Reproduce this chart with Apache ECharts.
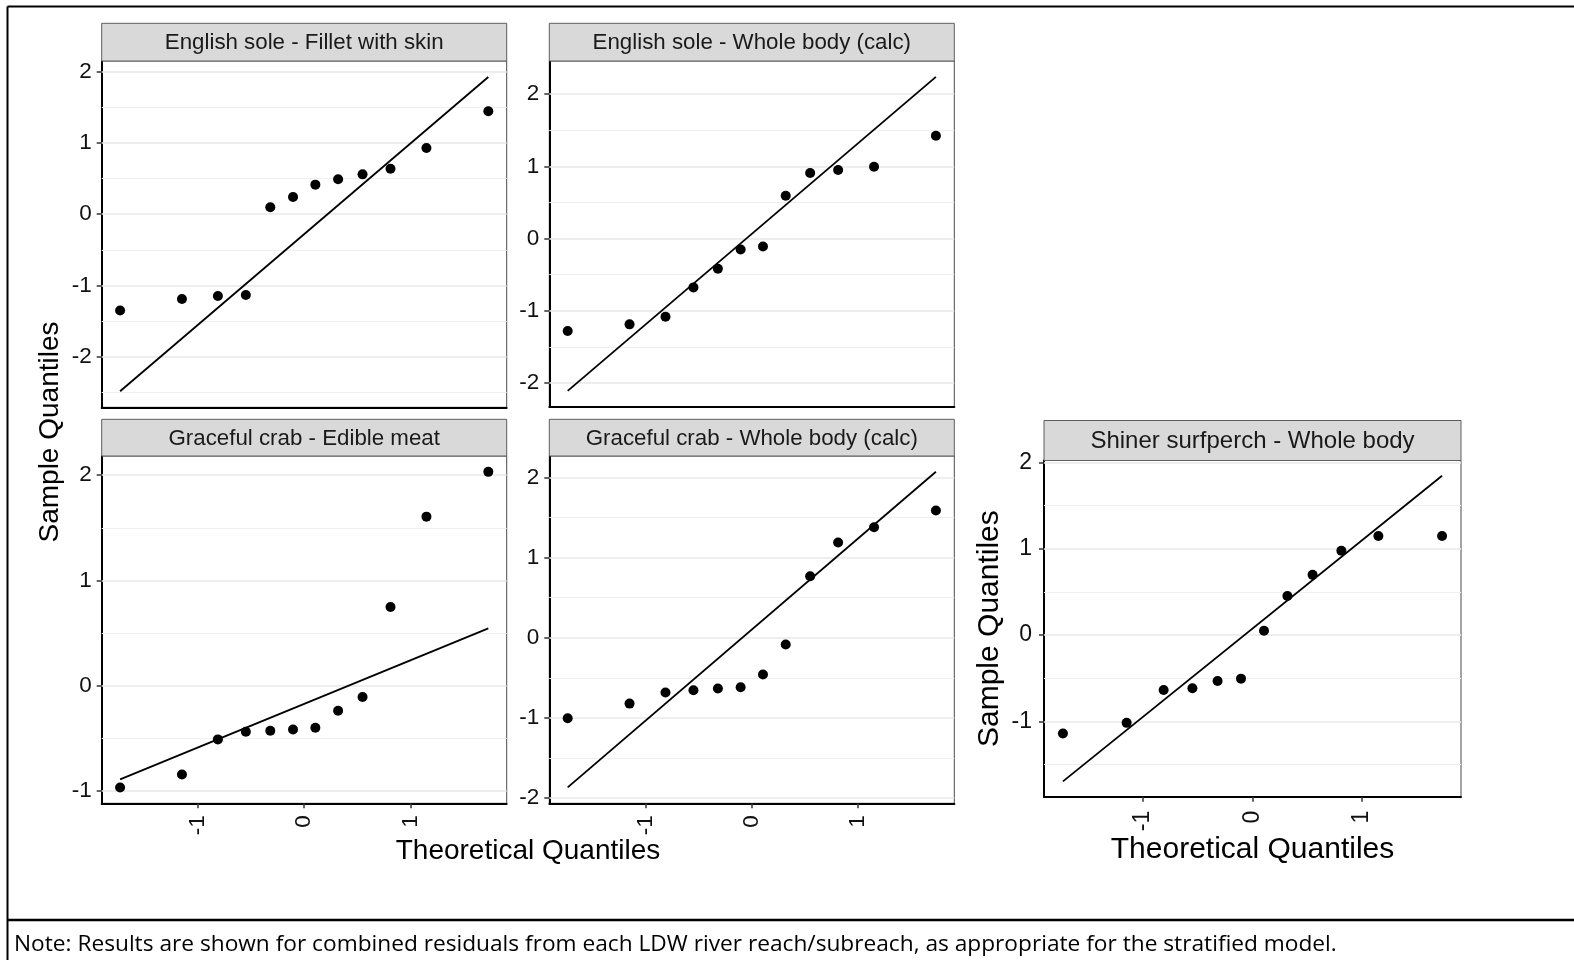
<!DOCTYPE html>
<html><head><meta charset="utf-8">
<script src="https://cdn.jsdelivr.net/npm/echarts@6/dist/echarts.min.js"></script>
<style>html,body{margin:0;padding:0;background:#fff}#c{width:1574px;height:960px}</style>
</head><body><div id="c"></div><script>
// ---------- data ----------
const panelTitles = [
  'English sole - Fillet with skin',
  'English sole - Whole body (calc)',
  'Graceful crab - Edible meat',
  'Graceful crab - Whole body (calc)',
  'Shiner surfperch - Whole body'
];
// theoretical normal quantiles (n = 12)
const theoQ = [-1.732, -1.150, -0.812, -0.549, -0.319, -0.105, 0.105, 0.319, 0.549, 0.812, 1.150, 1.732];
// sample quantiles
const sampleESFillet = [-1.352, -1.189, -1.147, -1.133, 0.098, 0.242, 0.415, 0.490, 0.559, 0.639, 0.928, 1.445];
const sampleESWhole  = [-1.281, -1.189, -1.083, -0.677, -0.419, -0.152, -0.111, 0.594, 0.908, 0.949, 0.995, 1.424];
const sampleGCMeat   = [-0.971, -0.848, -0.514, -0.441, -0.432, -0.419, -0.403, -0.241, -0.111, 0.746, 1.606, 2.032];
const sampleGCWhole  = [-1.004, -0.821, -0.683, -0.654, -0.633, -0.617, -0.458, -0.083, 0.767, 1.188, 1.379, 1.588];
const sampleSSWhole  = [-1.140, -1.016, -0.636, -0.616, -0.531, -0.504, 0.050, 0.453, 0.698, 0.977, 1.147, 1.147];
// reference (qq) line end values at x = theoQ[0] and x = theoQ[11]
const lineESFillet = [-2.485, 1.925];
const lineESWhole  = [-2.111, 2.240];
const lineGCMeat   = [-0.895, 0.543];
const lineGCWhole  = [-1.867, 2.071];
const lineSSWhole  = [-1.694, 1.845];
// axis tick labels
const yTicksESFillet = [-2, -1, 0, 1, 2];
const yTicksESWhole  = [-2, -1, 0, 1, 2];
const yTicksGCMeat   = [-1, 0, 1, 2];
const yTicksGCWhole  = [-2, -1, 0, 1, 2];
const yTicksSSWhole  = [-1, 0, 1, 2];
const xTicks = [-1, 0, 1];
const yTitle = 'Sample Quantiles';
const xTitle = 'Theoretical Quantiles';
const noteText = 'Note: Results are shown for combined residuals from each LDW river reach/subreach, as appropriate for the stratified model.';

// ---------- layout ----------
const FONT = '"Liberation Sans", Arial, sans-serif';
const panels = [
  {title: panelTitles[0], y: sampleESFillet, line: lineESFillet, ticks: yTicksESFillet, ymin: -2.71, ymax: 2.15, left: 101.7, top: 61, w: 405, h: 346.3, stripTop: 23.3, bottomRow: false, big: false},
  {title: panelTitles[1], y: sampleESWhole,  line: lineESWhole,  ticks: yTicksESWhole,  ymin: -2.33, ymax: 2.46, left: 549.3, top: 61, w: 405, h: 345.7, stripTop: 23.3, bottomRow: false, big: false},
  {title: panelTitles[2], y: sampleGCMeat,   line: lineGCMeat,   ticks: yTicksGCMeat,   ymin: -1.122, ymax: 2.183, left: 101.7, top: 456, w: 405, h: 347.3, stripTop: 419.3, bottomRow: true, big: false},
  {title: panelTitles[3], y: sampleGCWhole,  line: lineGCWhole,  ticks: yTicksGCWhole,  ymin: -2.065, ymax: 2.268, left: 549.3, top: 456, w: 405, h: 347.3, stripTop: 419.3, bottomRow: true, big: false},
  {title: panelTitles[4], y: sampleSSWhole,  line: lineSSWhole,  ticks: yTicksSSWhole,  ymin: -1.871, ymax: 2.022, left: 1044, top: 460.5, w: 417, h: 336.2, stripTop: 420.5, bottomRow: true, big: true}
];
const XMIN = -1.905, XMAX = 1.905;

const grids = [], xAxes = [], yAxes = [], series = [], graphics = [];

panels.forEach((p, i) => {
  const tickFont = p.big ? 23 : 22.5;
  grids.push({left: p.left, top: p.top, width: p.w, height: p.h, show: true,
    borderColor: '#4a4a4a', borderWidth: 1, backgroundColor: '#fff', outerBoundsMode: 'none', containLabel: false});
  xAxes.push({
    type: 'value', gridIndex: i, min: XMIN, max: XMAX,
    axisLine: {show: true, onZero: false, lineStyle: {color: '#000', width: 2}},
    axisTick: {show: p.bottomRow, customValues: xTicks, length: 5, lineStyle: {color: '#333', width: 1.5}},
    axisLabel: {show: p.bottomRow, customValues: xTicks, rotate: 90, margin: p.big ? 14 : 12,
      fontFamily: FONT, fontSize: tickFont, color: '#111'},
    splitLine: {show: false},
    name: p.big ? xTitle : '', nameLocation: 'middle', nameGap: 34,
    nameTextStyle: {fontFamily: FONT, fontSize: 30, color: '#000'}
  });
  yAxes.push({
    type: 'value', gridIndex: i, min: p.ymin, max: p.ymax,
    axisLine: {show: true, onZero: false, lineStyle: {color: '#000', width: 2}},
    axisTick: {show: true, customValues: p.ticks, length: 5, lineStyle: {color: '#333', width: 1.5}},
    axisLabel: {show: true, customValues: p.ticks, margin: p.big ? 12 : 10,
      fontFamily: FONT, fontSize: tickFont, color: '#111'},
    splitLine: {show: false},
    name: p.big ? yTitle : '', nameLocation: 'middle', nameRotate: 90, nameGap: 39,
    nameTextStyle: {fontFamily: FONT, fontSize: 30, color: '#000'}
  });
  // horizontal grid lines at integers (major) and halves (minor)
  const gl = [];
  for (let v = Math.ceil(p.ymin * 2) / 2; v <= p.ymax; v += 0.5) {
    const major = Math.abs(v - Math.round(v)) < 1e-9;
    gl.push({yAxis: v, lineStyle: {color: major ? '#e8e8e8' : '#f0f0f0', width: major ? 1.6 : 1.1, type: 'solid'}});
  }
  series.push({
    type: 'line', xAxisIndex: i, yAxisIndex: i, z: 3,
    data: [[theoQ[0], p.line[0]], [theoQ[theoQ.length - 1], p.line[1]]],
    showSymbol: false, symbol: 'none', lineStyle: {color: '#000', width: 1.8}, silent: true,
    markLine: {silent: true, symbol: 'none', z: 1, label: {show: false}, animation: false, data: gl}
  });
  series.push({
    type: 'scatter', xAxisIndex: i, yAxisIndex: i, z: 4,
    data: theoQ.map((x, k) => [x, p.y[k]]),
    symbol: 'circle', symbolSize: 10, itemStyle: {color: '#000', opacity: 1}, silent: true
  });
  // facet strip
  const sh = p.top - p.stripTop;
  graphics.push({type: 'rect', shape: {x: p.left, y: p.stripTop, width: p.w, height: sh},
    style: {fill: '#d9d9d9', stroke: '#5e5e5e', lineWidth: 1}, z: 10});
  graphics.push({type: 'text', x: p.left + p.w / 2, y: p.stripTop + sh / 2 + 1, z: 11,
    style: {text: p.title, fill: '#1a1a1a', font: (p.big ? 24 : 22.3) + 'px ' + FONT, textAlign: 'center', textVerticalAlign: 'middle'}});
});

// shared titles for the 2x2 block
graphics.push({type: 'text', x: 50, y: 432, rotation: Math.PI / 2, z: 11,
  style: {text: yTitle, fill: '#000', font: '28px ' + FONT, textAlign: 'center', textVerticalAlign: 'middle'}});
graphics.push({type: 'text', x: 528, y: 851, z: 11,
  style: {text: xTitle, fill: '#000', font: '28px ' + FONT, textAlign: 'center', textVerticalAlign: 'middle'}});
// frame and note
graphics.push({type: 'line', shape: {x1: 7.5, y1: 6.5, x2: 1574, y2: 6.5}, style: {stroke: '#000', lineWidth: 2}, z: 12});
graphics.push({type: 'line', shape: {x1: 7.5, y1: 6.5, x2: 7.5, y2: 960}, style: {stroke: '#000', lineWidth: 2}, z: 12});
graphics.push({type: 'line', shape: {x1: 7.5, y1: 920, x2: 1574, y2: 920}, style: {stroke: '#000', lineWidth: 2.3}, z: 12});
graphics.push({type: 'text', x: 14, y: 945, z: 11,
  style: {text: noteText, fill: '#000', font: '22.7px "Open Sans", sans-serif', textAlign: 'left', textVerticalAlign: 'middle'}});

const chart = echarts.init(document.getElementById('c'), null, {renderer: 'canvas'});
chart.setOption({
  animation: false,
  backgroundColor: '#fff',
  grid: grids, xAxis: xAxes, yAxis: yAxes, series: series, graphic: graphics
});
</script></body></html>
